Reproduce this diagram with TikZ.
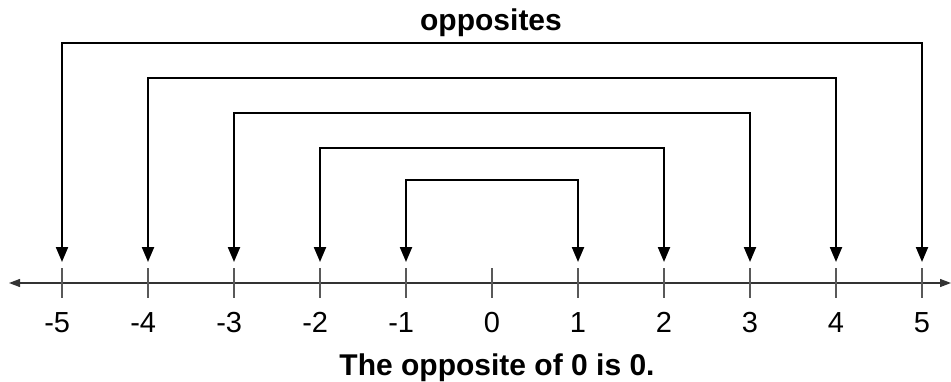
\documentclass[tikz,border=0pt]{standalone}
\usepackage{fontspec}
\setmainfont{Liberation Sans}
\usetikzlibrary{arrows.meta}
\tikzset{
  numline/.style={line width=1.3pt, draw=black!80, {Triangle[length=11pt,width=8pt]}-{Triangle[length=11pt,width=8pt]}},
  tickmark/.style={line width=1.2pt, draw=black!65},
  numlabel/.style={anchor=base, inner sep=0pt, font=\fontsize{29}{31}\selectfont},
  bracketline/.style={line width=2.2pt, draw=black, {Triangle[length=15pt,width=12pt]}-{Triangle[length=15pt,width=12pt]}},
  heading/.style={anchor=base, inner sep=0pt, font=\fontsize{30}{32}\selectfont\bfseries}
}
\begin{document}
\begin{tikzpicture}[x=1pt,y=1pt]
\useasboundingbox (0,0) rectangle (951,381);
\coordinate (lend) at (9,98);
\coordinate (rend) at (951,98);
\draw[numline] (lend) -- (rend);
\foreach \k in {-5,...,5}{
  \coordinate (tt\k) at ({492+86*\k},113);
  \coordinate (tb\k) at ({492+86*\k},83);
  \draw[tickmark] (tt\k) -- (tb\k);
  \node[numlabel] (lab\k) at ({492+86*\k},49) {\ifnum\k<0 \llap{-}\number\numexpr-\k\relax\else\k\fi};
}
\foreach \k/\h in {1/201,2/233,3/268,4/303,5/338}{
  \coordinate (am\k) at ({492-86*\k},119);
  \coordinate (ap\k) at ({492+86*\k},119);
  \coordinate (top\k) at (492,\h);
  \draw[bracketline] (am\k) |- (top\k) -| (ap\k);
}
\node[heading] (opp) at (491,350) {opposites};
\node[heading] (note) at (497,6) {The opposite of 0 is 0.};
\end{tikzpicture}
\end{document}
